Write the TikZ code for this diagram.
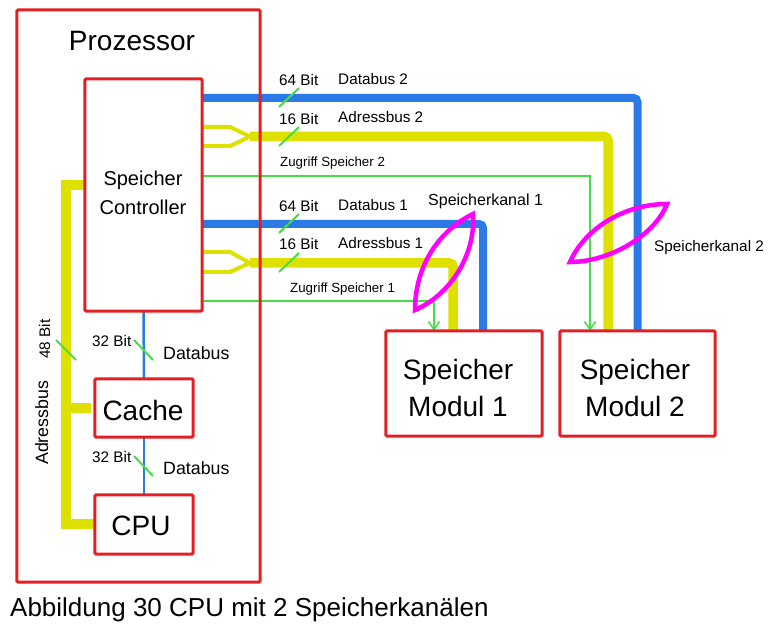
\documentclass[tikz,border=0pt]{standalone}
\usepackage{fontspec}
\setmainfont{Liberation Sans}
\usetikzlibrary{arrows.meta,calc}
\definecolor{boxred}{RGB}{226,32,36}
\definecolor{busblue}{RGB}{44,122,232}
\definecolor{busyellow}{RGB}{222,224,0}
\definecolor{sigreen}{RGB}{70,222,70}
\definecolor{lensmag}{RGB}{255,0,255}
\begin{document}
\begin{tikzpicture}[x=1pt,y=-1pt,
  redbox/.style={draw=boxred,line width=3pt,rounded corners=1.5pt,inner sep=0pt,outer sep=0pt},
  bluebus/.style={draw=busblue,line width=8pt,rounded corners=4pt},
  yelbus/.style={draw=busyellow,line width=9.5pt,rounded corners=4pt},
  yelfork/.style={draw=busyellow,line width=4pt},
  thinblue/.style={draw=busblue,line width=2.5pt},
  sig/.style={draw=sigreen,line width=1.5pt,-{Straight Barb[length=8pt,width=11pt,line width=1.5pt]}},
  bittick/.style={draw=sigreen,line width=2pt},
  lens/.style={draw=lensmag,line width=4.5pt,line join=miter},
  lbl/.style={inner sep=0pt,anchor=base west,font=\fontsize{15.3}{17}\selectfont},
  smalllbl/.style={inner sep=0pt,anchor=base west,font=\fontsize{13.3}{15}\selectfont},
  midlbl/.style={inner sep=0pt,anchor=base west,font=\fontsize{17.8}{20}\selectfont},
  bigtxt/.style={inner sep=0pt,align=center,font=\fontsize{28}{37}\selectfont},
]
\useasboundingbox (0,0) rectangle (784,628);

% boxes (nodes defined first, drawn later on top)
\path
  (138.5,296) node[minimum width=243pt,minimum height=572pt] (proz) {}
  (143.5,195) node[minimum width=117pt,minimum height=232pt] (ctrl) {}
  (144,408) node[minimum width=98pt,minimum height=58pt] (cache) {}
  (144,524.5) node[minimum width=98pt,minimum height=59pt] (cpu) {}
  (464,383.5) node[minimum width=156pt,minimum height=105pt] (m1) {}
  (637.5,383.5) node[minimum width=155pt,minimum height=105pt] (m2) {};

% channel 2
\draw[bluebus] (ctrl.east |- 0,98) -| (m2.north);
\draw[yelfork] (ctrl.east |- 0,127) -- (230,127) -- (250,136.5) -- (230,146) -- (ctrl.east |- 0,146);
\draw[yelbus] (250,136.5) -| ($(m2.north)+(-29.5,0)$);
\draw[sig] (ctrl.east |- 0,176) -| ($(m2.north)+(-47.5,0)$);
% channel 1
\draw[bluebus] (ctrl.east |- 0,224) -| ($(m1.north)+(19,0)$);
\draw[yelfork] (ctrl.east |- 0,252) -- (230,252) -- (250,263) -- (230,272) -- (ctrl.east |- 0,272);
\draw[yelbus] (250,263) -| ($(m1.north)+(-11,0)$);
\draw[sig] (ctrl.east |- 0,301) -| ($(m1.north)+(-30,0)$);

% internal buses
\draw[thinblue] (ctrl.south) -- (cache.north);
\draw[thinblue] (cache.south) -- (cpu.north);
\draw[yelbus,rounded corners=0pt] (ctrl.west |- 0,185) -- (66,185) -- (66,524) -- (cpu.west |- 0,524);
\draw[yelbus,rounded corners=0pt] (66,408) -- ($(cache.west)+(-4,0)$);

% bit ticks
\draw[bittick] (279,107) -- (299,88);
\draw[bittick] (279,146) -- (299,127);
\draw[bittick] (279,233) -- (299,214);
\draw[bittick] (279,272) -- (299,253);
\draw[bittick] (134,340) -- (153,360);
\draw[bittick] (134,456) -- (153,476);
\draw[bittick] (56,340) -- (76,360);

% lenses
\draw[lens] (473,214) .. controls (440,230) and (415,265) .. (415,310)
            .. controls (450,295) and (476,255) .. (473,214) -- cycle;
\draw[lens] (570,262) .. controls (585,228) and (625,204) .. (667,204)
            .. controls (655,235) and (610,262) .. (570,262) -- cycle;

% boxes drawn on top
\draw[boxred,line width=3pt,rounded corners=1.5pt] (proz.north west) rectangle (proz.south east);
\draw[boxred,line width=3pt,rounded corners=1.5pt] (ctrl.north west) rectangle (ctrl.south east);
\draw[boxred,line width=3pt,rounded corners=1.5pt] (cache.north west) rectangle (cache.south east);
\draw[boxred,line width=3pt,rounded corners=1.5pt] (cpu.north west) rectangle (cpu.south east);
\draw[boxred,line width=3pt,rounded corners=1.5pt] (m1.north west) rectangle (m1.south east);
\draw[boxred,line width=3pt,rounded corners=1.5pt] (m2.north west) rectangle (m2.south east);

% box texts
\node[bigtxt] (prozt) at (132,41) {Prozessor};
\node[inner sep=0pt,align=center,font=\fontsize{20}{29}\selectfont] (ctrlt) at (143,193) {Speicher\\Controller};
\node[bigtxt] (cachet) at (143,410) {Cache};
\node[bigtxt] (cput) at (141,526) {CPU};
\node[bigtxt] (m1t) at (458,388) {Speicher\\Modul 1};
\node[bigtxt] (m2t) at (635,388) {Speicher\\Modul 2};

% labels
\node[lbl] (l64a) at (279,86) {64 Bit};
\node[lbl] (ld2) at (338,84.5) {Databus 2};
\node[lbl] (l16a) at (279,125) {16 Bit};
\node[lbl] (la2) at (338,123) {Adressbus 2};
\node[smalllbl] (lz2) at (280,166.7) {Zugriff Speicher 2};
\node[lbl] (l64b) at (279,212) {64 Bit};
\node[lbl] (ld1) at (338,210.7) {Databus 1};
\node[lbl] (l16b) at (279,250) {16 Bit};
\node[lbl] (la1) at (338,249) {Adressbus 1};
\node[smalllbl] (lz1) at (290,292.3) {Zugriff Speicher 1};
\node[lbl,font=\fontsize{16}{18}\selectfont] (lk1) at (428,205.7) {Speicherkanal 1};
\node[lbl] (lk2) at (654,251.7) {Speicherkanal 2};
\node[lbl] (l32a) at (92,346) {32 Bit};
\node[midlbl] (ldba) at (163,359) {Databus};
\node[lbl] (l32b) at (92,462.3) {32 Bit};
\node[midlbl] (ldbb) at (163,474.3) {Databus};
\node[lbl,rotate=90] (l48) at (50,359) {48 Bit};
\node[midlbl,rotate=90] (lab) at (48,465) {Adressbus};
\node[inner sep=0pt,anchor=base west,font=\fontsize{26}{29}\selectfont] (cap) at (10,616) {Abbildung 30 CPU mit 2 Speicherkanälen};
\end{tikzpicture}
\end{document}
